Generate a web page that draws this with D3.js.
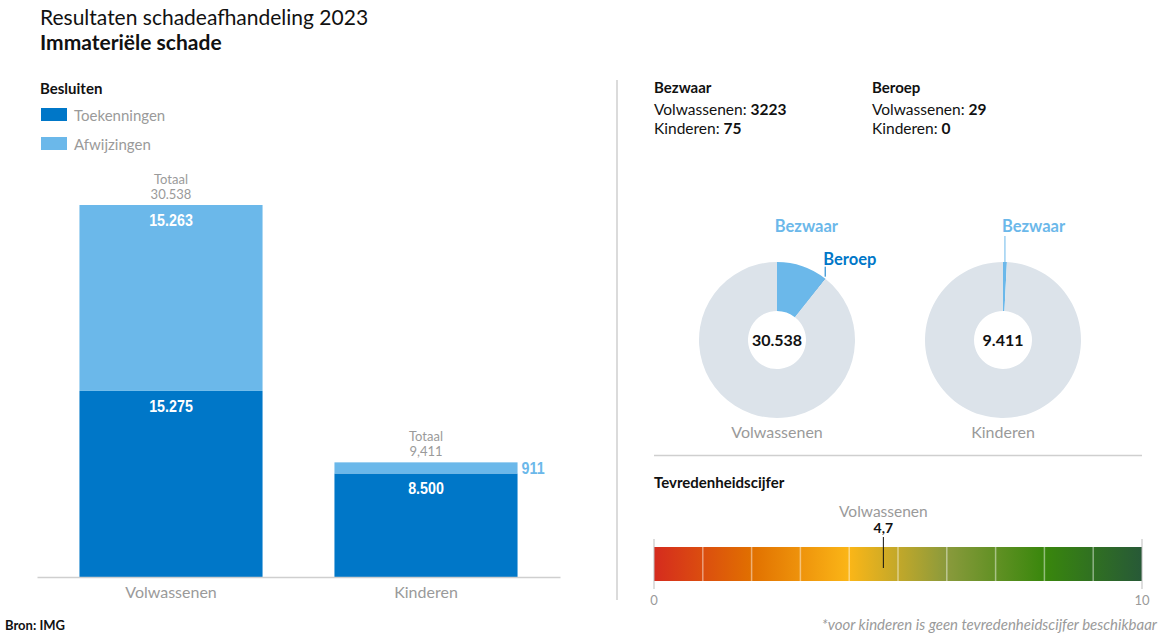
<!DOCTYPE html>
<html>
<head>
<meta charset="utf-8">
<script src="https://cdn.jsdelivr.net/npm/d3@7"></script>
<style>
  html, body { margin: 0; padding: 0; background: #fff; }
  svg { display: block; font-family: Lato, "Open Sans", sans-serif; }
</style>
</head>
<body>
<svg id="chart" width="1161" height="633"></svg>
<script>
// ---------- DATA ----------
const categories = ["Volwassenen", "Kinderen"];
const toekenningen = [15275, 8500];
const afwijzingen = [15263, 911];
const totalLabels = ["30.538", "9,411"];
const donutCenterLabels = ["30.538", "9.411"];
const bezwaar = [3223, 75];
const beroep = [29, 0];
const satisfactionValue = 4.7;
const satisfactionLabel = "4,7";
const satisfactionTicks = [0, 10];
const gradientStops = [
  [0, "#d52b1e"], [2, "#e17000"], [4, "#fbb617"], [6, "#8a9a3c"], [8, "#39870c"], [10, "#275937"]
];

// ---------- STYLE ----------
const DARK = "#0077c8", LIGHT = "#6bb8ea", GREY_RING = "#dce3ea", GREY_TXT = "#9a9a9a";
const NARROW = "'Liberation Sans', Arial, sans-serif";
const nl = d3.formatLocale({decimal: ",", thousands: ".", grouping: [3], currency: ["€", ""]});
const fmt = nl.format(",d");

const svg = d3.select("#chart");

// Titles
svg.append("text").attr("x", 40).attr("y", 25).attr("font-size", 21).attr("fill", "#111")
  .text("Resultaten schadeafhandeling 2023");
svg.append("text").attr("x", 40).attr("y", 50).attr("font-size", 21).attr("font-weight", 700).attr("fill", "#111")
  .text("Immateriële schade");

// ---------- LEFT: stacked bars ----------
svg.append("text").attr("x", 40).attr("y", 94).attr("font-size", 15).attr("font-weight", 700).attr("fill", "#111")
  .text("Besluiten");
const legend = [["Toekenningen", DARK], ["Afwijzingen", LIGHT]];
legend.forEach((d, i) => {
  const g = svg.append("g").attr("transform", `translate(41,${108 + i * 29})`);
  g.append("rect").attr("width", 26).attr("height", 13).attr("fill", d[1]);
  g.append("text").attr("x", 33).attr("y", 13).attr("font-size", 15).attr("fill", GREY_TXT).text(d[0]);
});

const totals = categories.map((c, i) => toekenningen[i] + afwijzingen[i]);
const x = d3.scaleBand().domain(categories).range([37, 560]).paddingInner(0.282).paddingOuter(0.1665);
const y = d3.scaleLinear().domain([0, d3.max(totals)]).range([577, 205]);

const series = d3.stack().keys(["toek", "afw"])(categories.map((c, i) => ({cat: c, toek: toekenningen[i], afw: afwijzingen[i]})));
const colors = {toek: DARK, afw: LIGHT};

const bars = svg.append("g");
series.forEach(s => {
  s.forEach(d => {
    const y0 = y(d[0]), y1 = y(d[1]);
    bars.append("rect").attr("x", x(d.data.cat)).attr("width", x.bandwidth())
      .attr("y", y1).attr("height", y0 - y1).attr("fill", colors[s.key]);
    const v = d[1] - d[0];
    if (y0 - y1 > 30) {
      bars.append("text")
        .attr("transform", `translate(${x(d.data.cat) + x.bandwidth() / 2},${y1 + 21}) scale(0.84,1)`)
        .attr("text-anchor", "middle").attr("font-family", NARROW).attr("font-weight", 700)
        .attr("font-size", 17).attr("fill", "#fff").text(fmt(v));
    } else {
      bars.append("text")
        .attr("transform", `translate(${x(d.data.cat) + x.bandwidth() + 4},${(y0 + y1) / 2 + 6}) scale(0.84,1)`)
        .attr("font-family", NARROW).attr("font-weight", 700)
        .attr("font-size", 17).attr("fill", colors[s.key]).text(fmt(v));
    }
  });
});
// totals
categories.forEach((c, i) => {
  const cx = x(c) + x.bandwidth() / 2, top = y(totals[i]);
  svg.append("text").attr("x", cx).attr("y", top - 21).attr("text-anchor", "middle")
    .attr("font-size", 13).attr("fill", GREY_TXT).text("Totaal");
  svg.append("text").attr("x", cx).attr("y", top - 6).attr("text-anchor", "middle")
    .attr("font-size", 13).attr("fill", GREY_TXT).text(totalLabels[i]);
});
// axis
const xAxis = svg.append("g").attr("transform", "translate(0,577)")
  .call(d3.axisBottom(x).tickSize(0).tickPadding(10));
xAxis.select(".domain").attr("stroke", "#cfcfcf").attr("stroke-width", 1.5);
xAxis.selectAll("text").attr("font-family", "Lato, sans-serif").attr("font-size", 16).attr("fill", GREY_TXT);

svg.append("text").attr("x", 5).attr("y", 630).attr("font-size", 13).attr("font-weight", 700).attr("fill", "#111")
  .text("Bron: IMG");

// divider
svg.append("line").attr("x1", 617).attr("x2", 617).attr("y1", 80).attr("y2", 600)
  .attr("stroke", "#cfcfcf").attr("stroke-width", 1.5);

// ---------- RIGHT: header lists ----------
const blocks = [["Bezwaar", bezwaar, 654], ["Beroep", beroep, 872]];
blocks.forEach(b => {
  svg.append("text").attr("x", b[2]).attr("y", 93).attr("font-size", 15).attr("font-weight", 700).attr("fill", "#111").text(b[0]);
  categories.forEach((c, i) => {
    const t = svg.append("text").attr("x", b[2]).attr("y", 115 + i * 19).attr("font-size", 15.5).attr("fill", "#111");
    t.append("tspan").text(c + ": ");
    t.append("tspan").attr("font-weight", 700).text(b[1][i]);
  });
});

// ---------- Donuts ----------
const donutCX = [777, 1003], donutCY = 340, R = 78, r = 29;
const pie = d3.pie().sort(null).value(d => d.v);
const arc = d3.arc().innerRadius(r).outerRadius(R);
categories.forEach((c, i) => {
  const rows = [
    {k: "Bezwaar", v: bezwaar[i], col: LIGHT},
    {k: "Beroep", v: beroep[i], col: DARK},
    {k: "rest", v: totals[i] - bezwaar[i] - beroep[i], col: GREY_RING}
  ];
  const g = svg.append("g").attr("transform", `translate(${donutCX[i]},${donutCY})`);
  const arcs = pie(rows);
  g.selectAll("path").data(arcs).join("path").attr("d", arc).attr("fill", d => d.data.col);
  g.append("text").attr("y", 6).attr("text-anchor", "middle").attr("font-size", 16).attr("font-weight", 700)
    .attr("fill", "#111").text(donutCenterLabels[i]);
  g.append("text").attr("y", 98).attr("text-anchor", "middle").attr("font-size", 16).attr("fill", GREY_TXT).text(c);
  // labels
  arcs.filter(d => d.data.k !== "rest" && d.data.v > 0).forEach(d => {
    const span = d.endAngle - d.startAngle;
    const a = (d.startAngle + d.endAngle) / 2;
    if (d.data.k === "Beroep") {
      const px = Math.sin(a) * R, py = -Math.cos(a) * R;
      g.append("line").attr("x1", px).attr("x2", px).attr("y1", py - 2).attr("y2", py - 12)
        .attr("stroke", DARK).attr("stroke-width", 1);
      g.append("text").attr("x", px - 2).attr("y", py - 14).attr("font-size", 16.5).attr("font-weight", 700)
        .attr("fill", DARK).text("Beroep");
    } else if (span > 0.2) {
      g.append("text").attr("x", Math.sin(a) * R + 4).attr("y", -108).attr("text-anchor", "middle")
        .attr("font-size", 16.5).attr("font-weight", 700).attr("fill", LIGHT).text(d.data.k);
    } else {
      const px = Math.sin(a) * R;
      g.append("line").attr("x1", px).attr("x2", px).attr("y1", -R).attr("y2", -104)
        .attr("stroke", LIGHT).attr("stroke-width", 1);
      g.append("text").attr("x", px - 3).attr("y", -108).attr("font-size", 16.5).attr("font-weight", 700)
        .attr("fill", LIGHT).text(d.data.k);
    }
  });
});

// horizontal divider
svg.append("line").attr("x1", 654).attr("x2", 1142).attr("y1", 455.5).attr("y2", 455.5)
  .attr("stroke", "#cfcfcf").attr("stroke-width", 1.5);

// ---------- Satisfaction scale ----------
svg.append("text").attr("x", 654).attr("y", 488).attr("font-size", 15).attr("font-weight", 700).attr("fill", "#111")
  .text("Tevredenheidscijfer");
const sx = d3.scaleLinear().domain([0, 10]).range([654, 1142]);
const defs = svg.append("defs");
const grad = defs.append("linearGradient").attr("id", "sat").attr("gradientUnits", "userSpaceOnUse")
  .attr("x1", sx(0)).attr("x2", sx(10)).attr("y1", 0).attr("y2", 0);
gradientStops.forEach(s => grad.append("stop").attr("offset", s[0] / 10).attr("stop-color", s[1]));
svg.append("rect").attr("x", sx(0)).attr("width", sx(10) - sx(0)).attr("y", 547).attr("height", 34)
  .attr("fill", "url(#sat)");
d3.range(1, 10).forEach(v => {
  svg.append("line").attr("x1", sx(v)).attr("x2", sx(v)).attr("y1", 547).attr("y2", 581)
    .attr("stroke", "rgba(255,255,255,0.45)").attr("stroke-width", 1.5);
});
satisfactionTicks.forEach(t => {
  svg.append("line").attr("x1", sx(t)).attr("x2", sx(t)).attr("y1", 539).attr("y2", 589)
    .attr("stroke", "#bdbdbd").attr("stroke-width", 1);
  svg.append("text").attr("x", sx(t)).attr("y", 605).attr("text-anchor", "middle")
    .attr("font-size", 13).attr("fill", GREY_TXT).text(t);
});
svg.append("line").attr("x1", sx(satisfactionValue)).attr("x2", sx(satisfactionValue)).attr("y1", 537).attr("y2", 568)
  .attr("stroke", "#111").attr("stroke-width", 1);
svg.append("text").attr("x", sx(satisfactionValue)).attr("y", 533).attr("text-anchor", "middle")
  .attr("font-size", 14).attr("font-weight", 700).attr("fill", "#111").text(satisfactionLabel);
svg.append("text").attr("x", sx(satisfactionValue)).attr("y", 517).attr("text-anchor", "middle")
  .attr("font-size", 15.5).attr("fill", GREY_TXT).text(categories[0]);

svg.append("text").attr("x", 1157).attr("y", 630).attr("text-anchor", "end").attr("font-style", "italic")
  .attr("font-size", 15).attr("fill", GREY_TXT).text("*voor kinderen is geen tevredenheidscijfer beschikbaar");
</script>
</body>
</html>
